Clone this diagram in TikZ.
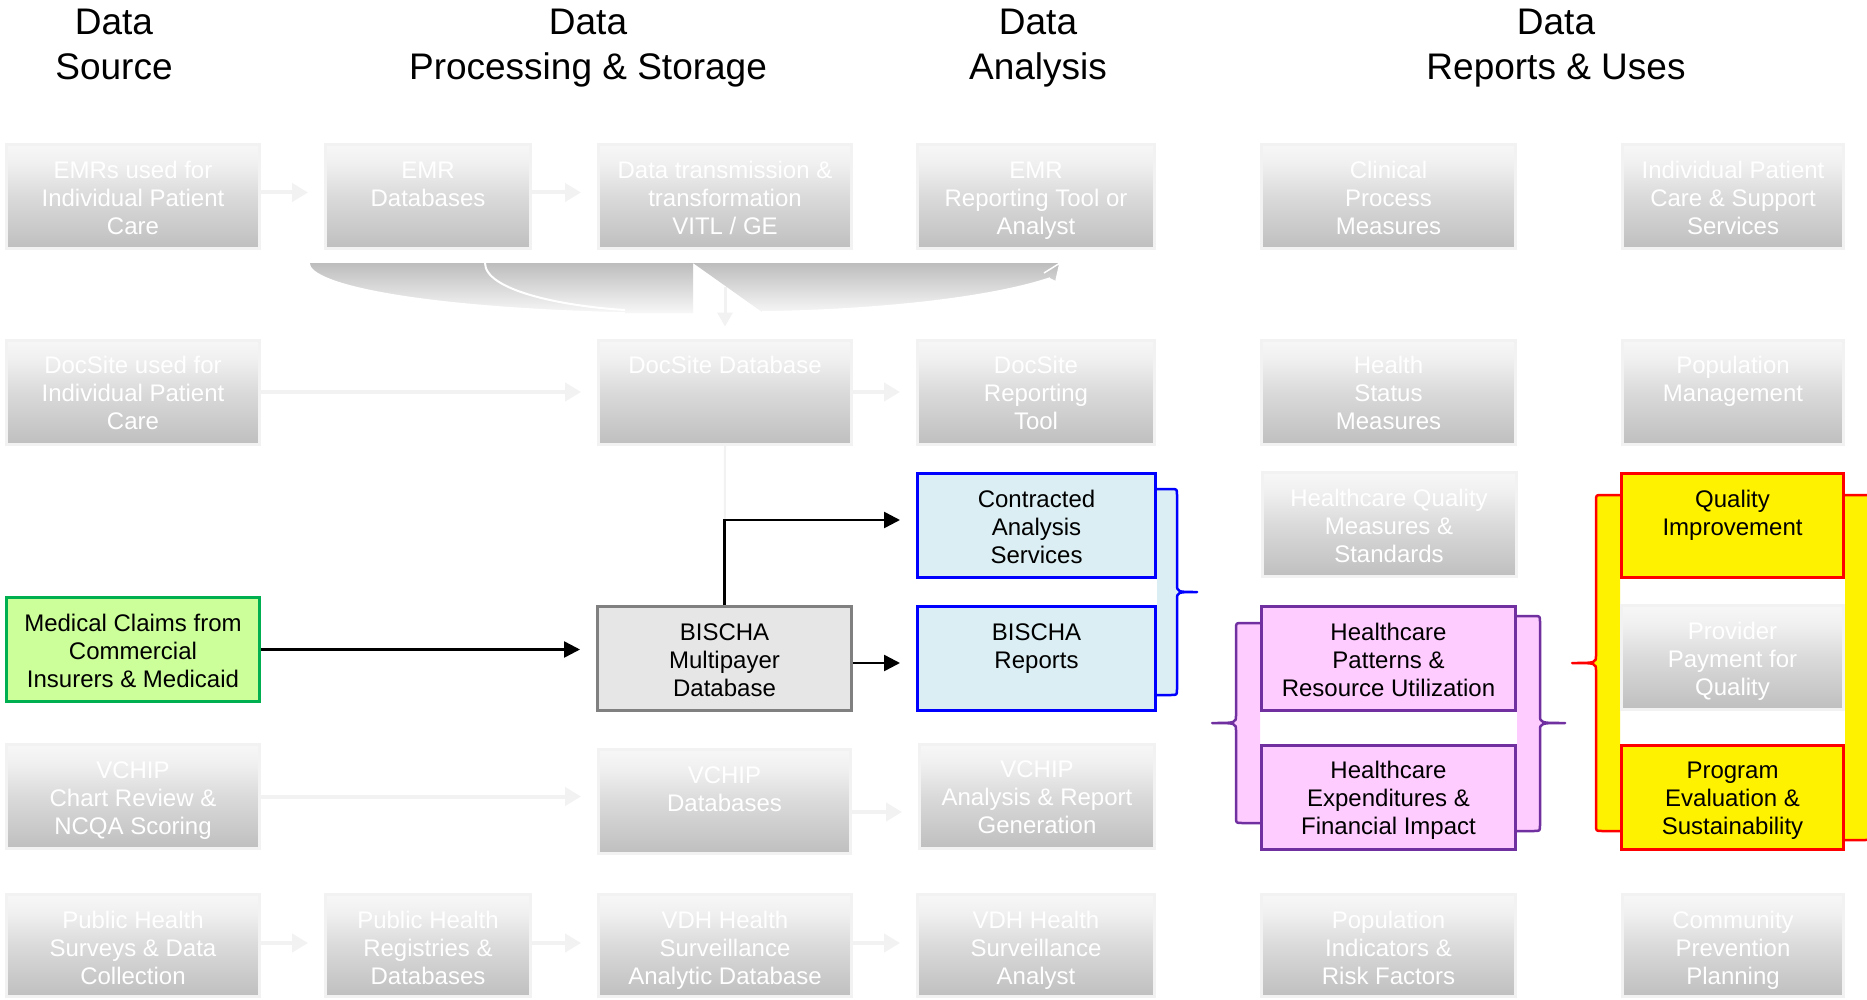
\documentclass[tikz,border=0pt]{standalone}
\usepackage{fontspec}
\setmainfont{Liberation Sans}
\usetikzlibrary{arrows.meta,calc}

% palette
\definecolor{fadeline}{HTML}{F2F2F2}
\definecolor{boxlow}{HTML}{BFBFBF}
\definecolor{boxmid}{HTML}{DADADA}
\definecolor{boxhigh}{HTML}{F0F0F0}
\definecolor{boxtop}{HTML}{F7F7F7}
\definecolor{bandtop}{HTML}{BDBDBD}
\definecolor{cyanfill}{HTML}{DAEEF3}
\definecolor{greenfill}{HTML}{CCFF99}
\definecolor{greenline}{HTML}{00B050}
\definecolor{pinkfill}{HTML}{FFCCFF}
\definecolor{purpleline}{HTML}{7030A0}
\definecolor{bisgray}{HTML}{E6E6E6}
\definecolor{bisline}{HTML}{808080}

% gradients: boxes get darker downwards, the curved band gets lighter downwards
\pgfdeclareverticalshading{boxfade}{100bp}{color(0bp)=(boxlow); color(25bp)=(boxlow); color(50bp)=(boxmid); color(66bp)=(boxhigh); color(75bp)=(boxtop); color(100bp)=(boxtop)}
\pgfdeclareverticalshading{bandfade}{100bp}{color(0bp)=(boxtop); color(25bp)=(boxtop); color(75bp)=(bandtop); color(100bp)=(bandtop)}

% top-aligned, centred box text of fixed size
\newcommand\bt[3][104pt]{\parbox[c][#1][t]{#2}{\centering\fontsize{24}{28}\selectfont\vspace*{14pt}\strut#3}}

\tikzset{
  fadebox/.style={draw=fadeline, line width=3pt, shade, shading=boxfade, text=white, inner sep=0pt},
  colbox/.style 2 args={draw=#1, fill=#2, line width=3pt, text=black, inner sep=0pt},
  header/.style={font=\fontsize{37}{45}\selectfont, align=center, anchor=north, inner sep=0pt},
  fadearrow/.style={draw=fadeline, line width=4pt, -{Triangle[length=16pt,width=18pt]}},
  flowarrow/.style={draw=black, line width=2.5pt, -{Triangle[length=16pt,width=16pt]}},
  bracestroke/.style={line width=2.5pt, line join=round, line cap=round}
}

\begin{document}
\begin{tikzpicture}[x=1pt, y=-1pt]
\useasboundingbox (0,0) rectangle (1867,1000);
\clip (0,0) rectangle (1867,1000);
\fill[white] (0,0) rectangle (1867,1000);

% column headings
\node[header] (h1) at (114,8.5)  {Data\\Source};
\node[header] (h2) at (588,8.5)  {Data\\Processing \& Storage};
\node[header] (h3) at (1038,8.5) {Data\\Analysis};
\node[header] (h4) at (1556,8.5) {Data\\Reports \& Uses};

% braces with filled interiors
\fill[cyanfill] (1157,489) -- (1171,489) .. controls (1177,489) .. (1177,495) -- (1177,584) .. controls (1177,592) .. (1197,592) .. controls (1177,592) .. (1177,600) -- (1177,689) .. controls (1177,695) .. (1171,695) -- (1157,695) -- cycle;
\draw[blue, bracestroke] (1157,489) -- (1171,489) .. controls (1177,489) .. (1177,495) -- (1177,584) .. controls (1177,592) .. (1197,592) .. controls (1177,592) .. (1177,600) -- (1177,689) .. controls (1177,695) .. (1171,695) -- (1157,695);

\fill[pinkfill] (1260,623) -- (1242,623) .. controls (1236,623) .. (1236,629) -- (1236,715) .. controls (1236,723) .. (1212,723) .. controls (1236,723) .. (1236,731) -- (1236,817) .. controls (1236,823) .. (1242,823) -- (1260,823) -- cycle;
\draw[purpleline, bracestroke] (1260,623) -- (1242,623) .. controls (1236,623) .. (1236,629) -- (1236,715) .. controls (1236,723) .. (1212,723) .. controls (1236,723) .. (1236,731) -- (1236,817) .. controls (1236,823) .. (1242,823) -- (1260,823);

\fill[pinkfill] (1517,616) -- (1534,616) .. controls (1540,616) .. (1540,622) -- (1540,715) .. controls (1540,723) .. (1565,723) .. controls (1540,723) .. (1540,731) -- (1540,825) .. controls (1540,831) .. (1534,831) -- (1517,831) -- cycle;
\draw[purpleline, bracestroke] (1517,616) -- (1534,616) .. controls (1540,616) .. (1540,622) -- (1540,715) .. controls (1540,723) .. (1565,723) .. controls (1540,723) .. (1540,731) -- (1540,825) .. controls (1540,831) .. (1534,831) -- (1517,831);

\fill[yellow] (1620,495) -- (1602,495) .. controls (1596,495) .. (1596,501) -- (1596,655) .. controls (1596,663) .. (1572,663) .. controls (1596,663) .. (1596,671) -- (1596,825) .. controls (1596,831) .. (1602,831) -- (1620,831) -- cycle;
\draw[red, bracestroke] (1620,495) -- (1602,495) .. controls (1596,495) .. (1596,501) -- (1596,655) .. controls (1596,663) .. (1572,663) .. controls (1596,663) .. (1596,671) -- (1596,825) .. controls (1596,831) .. (1602,831) -- (1620,831);

\fill[yellow] (1845,495) -- (1864,495) .. controls (1872,495) .. (1872,503) -- (1872,832) .. controls (1872,840) .. (1864,840) -- (1845,840) -- cycle;
\draw[red, bracestroke] (1845,495) -- (1864,495) .. controls (1872,495) .. (1872,503) -- (1872,832) .. controls (1872,840) .. (1864,840) -- (1845,840);

% curved band below the first row
\path[shade, shading=bandfade]
  (309,263) -- (693,263) -- (693,313) -- (625,313) .. controls (420,308) and (309,285) .. (309,263) -- cycle
  (693,263) -- (1060,263) -- (1056,281) -- (1050,278) .. controls (990,298) and (880,310) .. (762,312) -- cycle;
\draw[white, line width=1.5pt] (309,263) .. controls (309,285) and (420,308) .. (625,313);
\draw[white, line width=2pt] (485,263) .. controls (485,290) and (560,306) .. (625,310);
\draw[white, line width=1.5pt] (762,312) .. controls (880,310) and (990,298) .. (1050,278);
\draw[white, line width=1.5pt] (1044,273) -- (1060,263) -- (1056,281);

% row 1
\node[fadebox] (e1) at (133,196.5)    {\bt{253pt}{EMRs used for\\Individual Patient\\Care}};
\node[fadebox] (e2) at (428,196.5)    {\bt{205pt}{EMR\\Databases}};
\node[fadebox] (e3) at (725,196.5)    {\bt{253pt}{Data transmission \&\\transformation\\VITL / GE}};
\node[fadebox] (e4) at (1036,196.5)   {\bt{237pt}{EMR\\Reporting Tool or\\Analyst}};
\node[fadebox] (e5) at (1388.5,196.5) {\bt{254pt}{Clinical\\Process\\Measures}};
\node[fadebox] (e6) at (1733,196.5)   {\bt{221pt}{Individual Patient\\Care \& Support\\Services}};

% row 2
\node[fadebox] (d1) at (133,392)    {\bt{253pt}{DocSite used for\\Individual Patient\\Care}};
\node[fadebox] (d3) at (725,392)    {\bt{253pt}{DocSite Database}};
\node[fadebox] (d4) at (1036,392)   {\bt{237pt}{DocSite\\Reporting\\Tool}};
\node[fadebox] (d5) at (1388.5,392) {\bt{254pt}{Health\\Status\\Measures}};
\node[fadebox] (d6) at (1733,392)   {\bt{221pt}{Population\\Management}};

% row 3
\node[colbox={blue}{cyanfill}] (ca) at (1036.5,525.5) {\bt{238pt}{Contracted\\Analysis\\Services}};
\node[fadebox] (hq) at (1389,524.5) {\bt{254pt}{Healthcare Quality\\Measures \&\\Standards}};
\node[colbox={red}{yellow}] (qi) at (1732.5,525.5) {\bt{222pt}{Quality\\Improvement}};

% row 4
\node[colbox={greenline}{greenfill}] (gr) at (133,649.5) {\bt{253pt}{Medical Claims from\\Commercial\\Insurers \& Medicaid}};
\node[colbox={bisline}{bisgray}] (bis) at (724.5,658.5) {\bt{254pt}{BISCHA\\Multipayer\\Database}};
\node[colbox={blue}{cyanfill}] (br) at (1036.5,658.5) {\bt{238pt}{BISCHA\\Reports}};
\node[colbox={purpleline}{pinkfill}] (pk1) at (1388.5,658.5) {\bt{254pt}{Healthcare\\Patterns \&\\Resource Utilization}};
\node[fadebox] (pp) at (1732.5,657.5) {\bt{222pt}{Provider\\Payment for\\Quality}};

% row 5
\node[fadebox] (v1) at (133,796.5)  {\bt{253pt}{VCHIP\\Chart Review \&\\NCQA Scoring}};
\node[fadebox] (v3) at (724.5,801.5) {\bt{252pt}{VCHIP\\Databases}};
\node[fadebox] (v4) at (1037,796)   {\bt{235pt}{VCHIP\\Analysis \& Report\\Generation}};
\node[colbox={purpleline}{pinkfill}] (pk2) at (1388.5,797) {\bt{254pt}{Healthcare\\Expenditures \&\\Financial Impact}};
\node[colbox={red}{yellow}] (pe) at (1732.5,797) {\bt{222pt}{Program\\Evaluation \&\\Sustainability}};

% row 6
\node[fadebox] (p1) at (133,945.5)    {\bt[102pt]{253pt}{Public Health\\Surveys \& Data\\Collection}};
\node[fadebox] (p2) at (428,945.5)    {\bt[102pt]{205pt}{Public Health\\Registries \&\\Databases}};
\node[fadebox] (p3) at (725,945.5)    {\bt[102pt]{253pt}{VDH Health\\Surveillance\\Analytic Database}};
\node[fadebox] (p4) at (1036,945.5)   {\bt[102pt]{237pt}{VDH Health\\Surveillance\\Analyst}};
\node[fadebox] (p5) at (1388.5,945.5) {\bt[102pt]{254pt}{Population\\Indicators \&\\Risk Factors}};
\node[fadebox] (p6) at (1733,945.5)   {\bt[102pt]{221pt}{Community\\Prevention\\Planning}};

% faint connectors
\draw[fadearrow] ([yshift=4pt]e1.east) -- ($(e1.east -| e2.west)+(-16pt,4pt)$);
\draw[fadearrow] ([yshift=4pt]e2.east) -- ($(e2.east -| e3.west)+(-16pt,4pt)$);
\draw[fadearrow] (d1.east) -- ($(d1.east -| d3.west)+(-16pt,0pt)$);
\draw[fadearrow] (d3.east) -- ($(d3.east -| d4.west)+(-16pt,0pt)$);
\draw[fadearrow] (v1.east) -- ($(v1.east -| v3.west)+(-16pt,0pt)$);
\draw[fadearrow] ([yshift=-10.5pt]v3.east) -- ($(v3.east -| v4.west)+(-16pt,-10.5pt)$);
\draw[fadearrow] ([yshift=2.5pt]p1.east) -- ($(p1.east -| p2.west)+(-16pt,2.5pt)$);
\draw[fadearrow] ([yshift=2.5pt]p2.east) -- ($(p2.east -| p3.west)+(-16pt,2.5pt)$);
\draw[fadearrow] ([yshift=2.5pt]p3.east) -- ($(p3.east -| p4.west)+(-16pt,2.5pt)$);
\draw[draw=fadeline, line width=3pt, -{Triangle[length=14pt,width=15pt]}] ([yshift=52pt]d3.north) -- ([yshift=12pt]d3.north);
\draw[fadeline, line width=2pt] (d3.south) -- (bis.north);

% claims data flow
\draw[flowarrow] (gr.east) -- ($(gr.east -| bis.west)+(-16pt,0pt)$);
\draw[flowarrow] (bis.north) |- ($(ca.west)+(-16pt,5.5pt)$);
\draw[flowarrow] ([yshift=-4.5pt]bis.east) -- ($(br.west)+(-16pt,-4.5pt)$);
\end{tikzpicture}
\end{document}
